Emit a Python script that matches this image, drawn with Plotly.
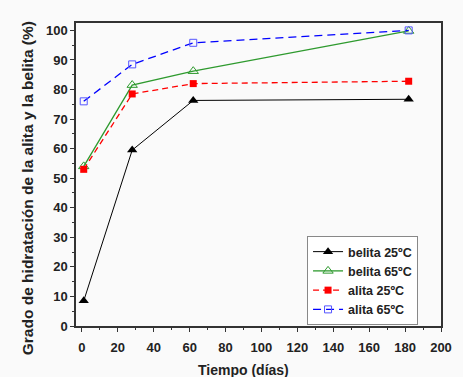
import plotly.graph_objects as go

dias = [1, 28, 62, 182]
belita_25 = [8.5, 59.5, 76.3, 76.7]
belita_65 = [54.0, 81.5, 86.2, 99.8]
alita_25 = [53.0, 78.5, 82.0, 82.8]
alita_65 = [76.0, 88.5, 95.8, 100.0]
x_ticks = list(range(0, 201, 20))
y_ticks = list(range(0, 101, 10))
y_title = "Grado de hidratación de la alita y la belita (%)"
x_title = "Tiempo (días)"

fig = go.Figure()
fig.add_trace(go.Scatter(x=dias, y=belita_25, name="belita 25ºC", mode="lines+markers",
                         line=dict(color="black", width=1),
                         marker=dict(symbol="triangle-up", size=9, color="black")))
fig.add_trace(go.Scatter(x=dias, y=belita_65, name="belita 65ºC", mode="lines+markers",
                         line=dict(color="#2e9a2e", width=1.3),
                         marker=dict(symbol="triangle-up-open", size=9, color="#2e9a2e")))
fig.add_trace(go.Scatter(x=dias, y=alita_25, name="alita 25ºC", mode="lines+markers",
                         line=dict(color="red", width=1.3, dash="6px,4px"),
                         marker=dict(symbol="square", size=7, color="red")))
fig.add_trace(go.Scatter(x=dias, y=alita_65, name="alita 65ºC", mode="lines+markers",
                         line=dict(color="blue", width=1.3, dash="8px,5px"),
                         marker=dict(symbol="square-open", size=7, color="#5555ff")))

axis_common = dict(showline=True, linecolor="#333", linewidth=1.5, mirror=True,
                   ticks="outside", ticklen=4, tickwidth=1.2, tickcolor="#333",
                   showgrid=False, zeroline=False,
                   tickfont=dict(family="Arial, Liberation Sans", size=13, color="#222", weight="bold"))

fig.update_layout(
    width=463, height=377,
    margin=dict(l=76, r=22, t=23, b=51),
    paper_bgcolor="#fafafa", plot_bgcolor="#fafafa",
    font=dict(family="Arial, Liberation Sans", color="#222"),
    xaxis=dict(range=[-3.3, 200], tickvals=x_ticks, ticklabelstandoff=5,
               minor=dict(ticks="outside", ticklen=2, dtick=10, tickcolor="#333"),
               **axis_common),
    yaxis=dict(range=[0, 102.5], tickvals=y_ticks,
               minor=dict(ticks="outside", ticklen=2, dtick=5, tickcolor="#333"),
               **axis_common),
    legend=dict(x=0.633, y=0.297, xanchor="left", yanchor="top",
                bgcolor="white", bordercolor="#888", borderwidth=1,
                font=dict(size=12.5, weight="bold"), tracegroupgap=0,
                itemwidth=30),
    showlegend=True,
)
fig.add_annotation(text=y_title.replace(" ", "\u00a0"),
                   xref="paper", yref="paper", x=-0.134, y=0.455,
                   xanchor="center", yanchor="middle", textangle=-90, showarrow=False,
                   font=dict(size=15.5, weight="bold", color="#222"))
fig.add_annotation(text=x_title, xref="paper", yref="paper", x=0.46, y=-0.145,
                   xanchor="center", yanchor="middle", showarrow=False,
                   font=dict(size=14, weight="bold", color="#222"))
fig.write_html("out.html")
